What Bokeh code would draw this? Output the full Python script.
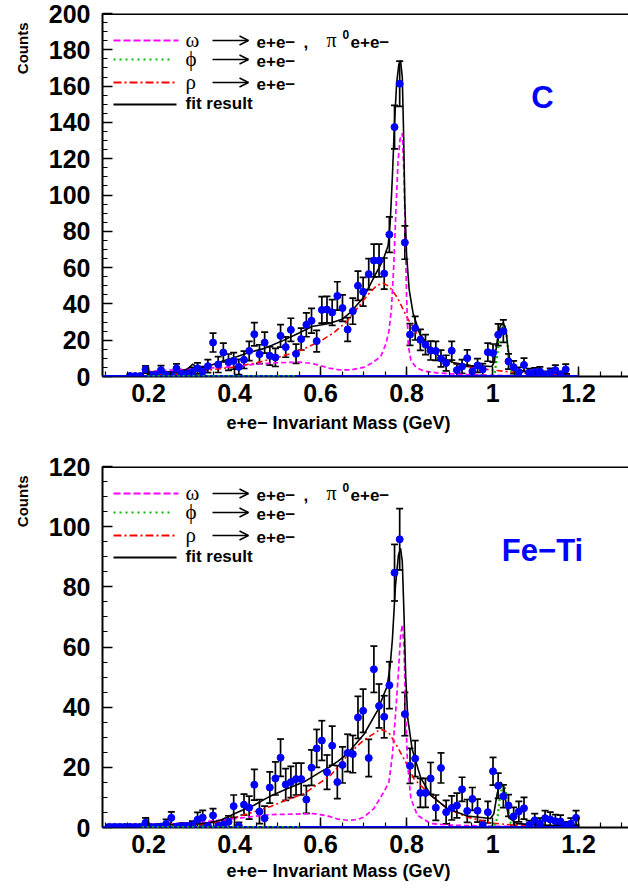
import math
from bokeh.plotting import figure
from bokeh.models import (Range1d, SingleIntervalTicker, Label, Arrow, OpenHead, TeeHead,
                          Whisker, ColumnDataSource, CustomJSTickFormatter, Span, Title)
from bokeh.layouts import column
from bokeh.embed import file_html
from bokeh.resources import INLINE

# ---------------- data: Carbon (top) ----------------
c_mass = [0.157, 0.169, 0.181, 0.193, 0.205, 0.217, 0.229, 0.241, 0.253, 0.265, 0.277, 0.289,
          0.302, 0.314, 0.326, 0.338, 0.350, 0.362, 0.374, 0.386, 0.398, 0.410, 0.422, 0.434,
          0.446, 0.458, 0.470, 0.482, 0.495, 0.507, 0.519, 0.531, 0.543, 0.555, 0.567, 0.579,
          0.591, 0.603, 0.615, 0.627, 0.639, 0.651, 0.663, 0.675, 0.687, 0.699, 0.712, 0.724,
          0.736, 0.748, 0.760, 0.772, 0.784, 0.796, 0.808, 0.820, 0.832, 0.844, 0.856, 0.868,
          0.880, 0.892, 0.905, 0.917, 0.929, 0.941, 0.953, 0.965, 0.977, 0.989, 1.001, 1.013,
          1.025, 1.037, 1.049, 1.061, 1.073, 1.085, 1.098, 1.110, 1.122, 1.134, 1.146, 1.158, 1.170]
c_counts = [0.3, 0.3, 0.3,
            3.9, 0.8, 0.8, 3.5, 0.8, 0.8, 4.4, 1.5, 1.5, 2.5,
            4.5, 2.6, 5.7, 18.7, 6.6, 13.2, 7.9, 8.6, 5.3, 9.2,
            14.1, 23.3, 12.3, 18.7, 11.4, 10.5, 22.4, 16.2, 25.7, 12.5,
            20.6, 28.5, 30.7, 19.5, 36.7, 36.9, 35.3, 44.4, 37.7, 25.9,
            36.0, 50.0, 46.7, 56.4, 63.9, 63.9, 56.7, 78.2, 137.4, 161.3,
            73.8, 23.1, 26.6, 20.2, 17.6, 14.3, 14.1, 9.9, 7.4, 14.2,
            3.5, 5.5, 10.1, 2.9, 6.1, 3.9, 13.4, 12.9, 23.0, 25.0,
            8.3, 5.1, 2.5, 6.4, 2.0, 2.4, 2.8, 1.0, 2.2, 3.5,
            1.0, 3.9]
c_errors = [0.8, 0.8, 0.8,
            2.0, 1.5, 1.5, 2.5, 1.5, 1.5, 2.6, 2.0, 2.0, 2.5,
            3.0, 2.8, 3.6, 5.2, 4.4, 5.2, 4.5, 4.6, 4.2, 4.8,
            5.3, 6.4, 5.2, 5.8, 5.1, 5.0, 6.2, 5.6, 6.4, 5.3,
            6.0, 6.6, 6.8, 5.9, 7.3, 7.3, 7.1, 7.8, 7.3, 6.5,
            7.2, 8.1, 7.9, 8.5, 9.0, 9.0, 8.6, 9.8, 12.0, 12.5,
            9.2, 6.0, 6.5, 5.8, 5.5, 5.2, 5.2, 4.6, 4.3, 5.2,
            3.4, 3.8, 4.6, 3.0, 3.8, 3.2, 5.0, 5.0, 6.0, 6.2,
            4.2, 3.5, 2.6, 3.7, 2.3, 2.4, 2.5, 1.8, 2.3, 2.8,
            1.8, 2.9]

c_fit_x = [0.193, 0.25, 0.285, 0.297, 0.303, 0.31, 0.32, 0.34, 0.36, 0.40, 0.43, 0.47, 0.51,
           0.55, 0.58, 0.62, 0.65, 0.67, 0.70, 0.725, 0.745, 0.757, 0.762, 0.767, 0.772, 0.777,
           0.782, 0.786, 0.790, 0.793, 0.796, 0.800, 0.806, 0.815, 0.83, 0.853, 0.877, 0.91,
           0.95, 0.998, 1.004, 1.011, 1.018, 1.025, 1.031, 1.036, 1.042, 1.053, 1.08, 1.14, 1.18]
c_fit_y = [2.2, 2.5, 3.2, 5.5, 6.8, 5.5, 4.5, 5.8, 7.5, 10.5, 13.0, 15.5, 19.5,
           24.0, 27.5, 29.2, 31.5, 35.5, 43.5, 55, 64, 72, 85, 110, 140, 162,
           172, 174, 165, 135, 95, 67, 48, 35, 24, 16, 11, 7.5,
           6, 5.5, 8, 20, 28, 29.5, 26, 15, 7, 3.8, 2.8, 1.8, 1.5]
c_omega_x = [0.193, 0.25, 0.30, 0.35, 0.40, 0.45, 0.50, 0.55, 0.58, 0.60, 0.62, 0.645, 0.67,
             0.70, 0.72, 0.74, 0.752, 0.759, 0.765, 0.770, 0.775, 0.780, 0.785, 0.790, 0.794,
             0.797, 0.800, 0.804, 0.810, 0.822, 0.84, 0.87, 0.92, 1.0, 1.1, 1.18]
c_omega_y = [2.8, 3.5, 4.2, 4.8, 5.5, 6.8, 7.6, 7.9, 7.2, 6.0, 4.6, 3.6, 3.6,
             5.0, 7.5, 11, 18, 25, 38, 60, 90, 118, 131, 134, 112,
             80, 44, 17, 9, 5, 3, 2, 1.2, 0.6, 0.3, 0.2]
c_rho_x = [0.193, 0.25, 0.28, 0.33, 0.40, 0.45, 0.50, 0.55, 0.60, 0.63, 0.66, 0.68, 0.71,
           0.73, 0.745, 0.76, 0.778, 0.79, 0.80, 0.825, 0.853, 0.88, 0.91, 0.95, 1.0, 1.03,
           1.07, 1.12, 1.18]
c_rho_y = [0.5, 1.0, 1.5, 3.3, 5.2, 7.5, 10.5, 14.0, 19.5, 24.0, 30.0, 36.0, 45.0,
           50.0, 51.5, 49.5, 43.7, 38.0, 33.0, 23.0, 14.5, 10.5, 7.5, 5.0, 3.5, 2.8,
           1.8, 1.4, 1.1]
c_phi_x = [0.95, 0.99, 1.0, 1.005, 1.011, 1.019, 1.026, 1.031, 1.036, 1.041, 1.047, 1.06, 1.10]
c_phi_y = [0.0, 0.2, 0.5, 2.0, 12.0, 25.0, 28.5, 26.0, 14.0, 5.0, 1.5, 0.4, 0.0]
c_phi_zero = [0.198, 0.542]

# ---------------- data: Fe-Ti (bottom) ----------------
f_mass = [0.109, 0.121, 0.133, 0.145, 0.157, 0.169, 0.181,
          0.193, 0.205, 0.217, 0.229, 0.241, 0.253, 0.265, 0.277, 0.289,
          0.302, 0.314, 0.326, 0.338, 0.350, 0.362, 0.374, 0.386, 0.398, 0.410, 0.422, 0.434,
          0.446, 0.458, 0.470, 0.482, 0.495, 0.507, 0.519, 0.531, 0.543, 0.555, 0.567, 0.579,
          0.591, 0.603, 0.615, 0.627, 0.639, 0.651, 0.663, 0.675, 0.687, 0.699, 0.712, 0.724,
          0.736, 0.748, 0.760, 0.772, 0.784, 0.796, 0.808, 0.820, 0.832, 0.844, 0.856, 0.868,
          0.880, 0.892, 0.905, 0.917, 0.929, 0.941, 0.953, 0.965, 0.977, 0.989, 1.001, 1.013,
          1.025, 1.037, 1.049, 1.061, 1.073, 1.085, 1.098, 1.110, 1.122, 1.134, 1.146, 1.158,
          1.170, 1.182, 1.194]
f_counts = [0.2, 0.2, 0.2, 0.2, 0.2, 0.2, 0.2,
            1.6, 0.2, 0.2, 0.3, 1.2, 3.2, 0.3, 0.5, 0.5, 0.8,
            2.6, 3.3, 0.5, 4.0, 0.5, 1.0, 1.9, 7.1, 0.5, 7.6,
            6.6, 14.2, 5.3, 3.1, 13.3, 16.3, 23.2, 14.3, 15.1, 16.1,
            16.1, 9.3, 19.9, 26.3, 28.9, 18.4, 27.2, 15.1, 20.8, 24.8,
            24.4, 36.6, 38.8, 23.1, 52.6, 40.4, 36.8, 47.3, 84.7, 95.8,
            37.7, 20.5, 22.9, 11.5, 11.5, 16.3, 6.6, 19.8, 5.1, 6.5,
            7.3, 12.7, 5.5, 9.5, 5.6, 0.8, 5.1, 18.7, 13.9, 10.4,
            7.3, 3.7, 5.3, 6.4, 0.8, 2.4, 1.3, 3.1, 2.7, 2.1,
            2.0, 0.6, 1.3, 3.2]
f_errors = [0.8, 0.8, 0.8, 0.8, 0.8, 0.8, 0.8,
            1.6, 0.8, 0.8, 0.9, 1.5, 2.0, 0.9, 1.0, 1.0, 1.3,
            2.4, 2.4, 1.0, 2.3, 1.0, 1.5, 2.0, 3.7, 1.2, 3.5,
            3.8, 5.1, 4.0, 4.0, 5.2, 5.5, 6.2, 5.3, 5.2, 5.3,
            5.3, 4.6, 5.9, 6.3, 6.6, 5.7, 6.5, 5.5, 6.0, 6.2,
            6.2, 7.0, 7.2, 6.2, 7.7, 7.3, 7.0, 7.8, 9.4, 10.2,
            7.2, 5.8, 6.0, 4.8, 4.8, 5.3, 4.2, 5.0, 3.9, 4.0,
            4.1, 4.0, 3.8, 3.8, 3.8, 1.5, 3.6, 4.6, 4.2, 3.8,
            3.6, 3.0, 3.4, 3.6, 1.5, 2.2, 1.8, 2.5, 2.4, 2.2,
            2.1, 1.3, 1.8, 2.4]

f_fit_x = [0.19, 0.25, 0.30, 0.34, 0.367, 0.406, 0.445, 0.484, 0.522, 0.561, 0.60, 0.623,
           0.64, 0.662, 0.701, 0.732, 0.755, 0.762, 0.767, 0.774, 0.781, 0.786, 0.790, 0.794,
           0.798, 0.803, 0.813, 0.833, 0.856, 0.895, 0.941, 0.995, 1.003, 1.011, 1.019, 1.026,
           1.032, 1.038, 1.057, 1.112, 1.19]
f_fit_y = [0.8, 0.9, 1.0, 1.6, 2.4, 5.0, 7.4, 10.5, 12.9, 15.1, 18.5, 20.3,
           22.0, 24.5, 31.0, 38.8, 47.0, 54.0, 62.5, 80.0, 90.5, 92.8, 88.5, 71.0,
           50.0, 36.0, 26.0, 16.5, 10.8, 6.3, 3.8, 3.0, 4.6, 11.5, 15.1, 13.5,
           7.4, 3.2, 1.3, 0.8, 0.5]
f_omega_x = [0.19, 0.25, 0.30, 0.33, 0.406, 0.445, 0.484, 0.522, 0.584, 0.615, 0.64, 0.662,
             0.685, 0.701, 0.724, 0.747, 0.759, 0.767, 0.774, 0.781, 0.786, 0.790, 0.794,
             0.798, 0.802, 0.810, 0.825, 0.856, 0.90, 1.0, 1.19]
f_omega_y = [1.0, 1.2, 1.5, 1.9, 3.0, 3.7, 4.3, 4.4, 4.6, 3.9, 2.8, 2.4,
             2.6, 3.5, 6.3, 11.8, 15.1, 24.0, 37.0, 51.5, 63.6, 67.4, 60.0,
             38.0, 21.7, 9.6, 4.1, 1.3, 0.8, 0.4, 0.2]
f_rho_x = [0.19, 0.25, 0.30, 0.367, 0.406, 0.445, 0.484, 0.522, 0.561, 0.60, 0.623, 0.64,
           0.662, 0.70, 0.74, 0.759, 0.778, 0.798, 0.817, 0.856, 0.895, 0.941, 0.995, 1.05, 1.19]
f_rho_y = [0.2, 0.5, 0.8, 1.9, 3.5, 5.2, 7.0, 9.2, 11.2, 15.0, 17.3, 20.0,
           24.0, 29.0, 32.7, 31.5, 27.0, 21.7, 16.2, 10.7, 6.3, 3.5, 1.5, 0.8, 0.4]
f_phi_x = [0.97, 1.0, 1.006, 1.012, 1.017, 1.022, 1.027, 1.032, 1.037, 1.042, 1.05, 1.07]
f_phi_y = [0.0, 0.3, 1.0, 4.0, 10.0, 13.5, 14.2, 11.0, 5.0, 1.5, 0.3, 0.0]
f_phi_zero = [0.185, 0.55]

baseline_end = 1.198
x_lo, x_hi = 0.093, 1.316
ticks_x = 0.2
ticks_y = 20

FONT = "Liberation Sans"
MAGENTA, GREEN, RED, BLUE = "#ff00ff", "#00bb00", "#ff0000", "#0000ff"


def lab(p, x, y, text, size, font=FONT, style="bold", color="black",
        align="left", baseline="middle", angle=0.0):
    p.add_layout(Label(x=x, y=y, x_units="screen", y_units="screen", text=text,
                       text_font=font, text_font_style=style, text_font_size=f"{size}px",
                       text_color=color, text_align=align, text_baseline=baseline, angle=angle))


def hline(p, x0, x1, y, color, dash, width=2.2, end=None):
    p.add_layout(Arrow(x_start=x0, y_start=y, x_end=x1, y_end=y, start_units="screen",
                       end_units="screen", start=None, end=end, line_color=color,
                       line_width=width, line_dash=dash))


def panel(height, btop, bbot, frame_h, title_gap, ymax, mass, counts, errors, fit, omega, rho,
          phi, phi_zero, tag):
    H = frame_h
    p = figure(width=628, height=height, x_range=Range1d(x_lo, x_hi), y_range=Range1d(0, ymax),
               output_backend="svg", toolbar_location=None, min_border_left=102,
               min_border_right=0, min_border_top=btop, min_border_bottom=bbot)
    p.grid.visible = False
    p.outline_line_color = None
    p.background_fill_color = "white"
    p.border_fill_color = "white"

    for ax, interval in ((p.xaxis[0], ticks_x), (p.yaxis[0], ticks_y)):
        ax.ticker = SingleIntervalTicker(interval=interval, num_minor_ticks=4)
        ax.major_tick_in = 10
        ax.major_tick_out = 0
        ax.minor_tick_in = 5
        ax.minor_tick_out = 0
        ax.axis_line_width = 2
        ax.major_tick_line_width = 1.5
        ax.minor_tick_line_width = 1.2
        ax.major_label_text_font = FONT
        ax.major_label_text_font_style = "bold"
        ax.major_label_text_font_size = "25px"
        ax.major_label_text_color = "black"
    p.xaxis[0].formatter = CustomJSTickFormatter(code="return String(Math.round(tick*10)/10);")
    p.xaxis[0].major_label_standoff = 7
    p.yaxis[0].major_label_standoff = 12

    p.add_layout(Title(text="e+e\u2212 Invariant Mass (GeV)", align="left", offset=124,
                       vertical_align="top", standoff=title_gap, text_font=FONT,
                       text_font_style="bold", text_font_size="18px", text_color="black"),
                 "below")
    p.add_layout(Title(text="Counts", align="right", offset=9, vertical_align="top",
                       standoff=26, text_font=FONT, text_font_style="bold",
                       text_font_size="15px", text_color="black"), "left")

    p.add_layout(Span(location=ymax, dimension="width", line_color="black", line_width=3))

    lower = [max(c - e, 0.0) for c, e in zip(counts, errors)]
    upper = [c + e for c, e in zip(counts, errors)]
    src = ColumnDataSource(dict(x=mass, y=counts, lower=lower, upper=upper))
    p.add_layout(Whisker(source=src, base="x", upper="upper", lower="lower", dimension="height",
                         line_color="black", line_width=1.7, level="underlay",
                         upper_head=TeeHead(size=7, line_width=1.7, line_color="black"),
                         lower_head=TeeHead(size=7, line_width=1.7, line_color="black")))

    p.line(rho[0], rho[1], line_color=RED, line_width=1.6, line_dash="6 3 2 3")
    p.line(omega[0], omega[1], line_color=MAGENTA, line_width=1.7, line_dash="5 3")
    p.line(phi[0], phi[1], line_color=GREEN, line_width=2.2, line_dash="2 3")
    p.line(fit[0], fit[1], line_color="black", line_width=1.6)
    p.scatter("x", "y", source=src, marker="circle", size=7, fill_color=BLUE, line_color=BLUE)

    # zero level of the fit components along the axis
    p.add_layout(Arrow(x_start=x_lo, y_start=0, x_end=baseline_end, y_end=0, start=None, end=None,
                       line_color=BLUE, line_width=3))
    p.add_layout(Arrow(x_start=phi_zero[0], y_start=0, x_end=phi_zero[1], y_end=0, start=None,
                       end=None, line_color=GREEN, line_width=3, line_dash="2 3"))

    # legend
    rows = [27, 46, 69, 91]
    y = [H - r for r in rows]
    hline(p, 11, 76, y[0], MAGENTA, "7 3")
    hline(p, 11, 70, y[1], GREEN, "2 4")
    hline(p, 11, 72, y[2], RED, "8 3 2 3")
    hline(p, 11, 74, y[3], "black", "solid")
    for i, g in enumerate(["\u03c9", "\u03d5", "\u03c1"]):
        lab(p, 83, y[i] + 1, g, 21, font="Liberation Serif", style="normal")
        hline(p, 110, 146, y[i], "black", "solid", width=1.5,
              end=OpenHead(size=9, line_width=1.5, line_color="black"))
        lab(p, 154, y[i] - 1, "e+e\u2212", 17)
    lab(p, 201, y[0] - 1, ",", 17)
    lab(p, 224, y[0] + 1, "\u03c0", 20, font="Liberation Serif", style="normal")
    lab(p, 240, y[0] + 6, "0", 12)
    lab(p, 248, y[0] - 1, "e+e\u2212", 17)
    lab(p, 83, y[3] + 1, "fit result", 17)

    lab(p, 440, H - 84, tag, 31, color=BLUE, align="center")
    return p


p1 = panel(443, 13, 67, 363, 16, 200, c_mass, c_counts, c_errors, (c_fit_x, c_fit_y),
           (c_omega_x, c_omega_y), (c_rho_x, c_rho_y), (c_phi_x, c_phi_y), c_phi_zero, "C")
p2 = panel(445, 23, 61, 361, 10, 120, f_mass, f_counts, f_errors, (f_fit_x, f_fit_y),
           (f_omega_x, f_omega_y), (f_rho_x, f_rho_y), (f_phi_x, f_phi_y), f_phi_zero,
           "Fe\u2212Ti")

layout = column(p1, p2, spacing=0)
open("out.html", "w").write(file_html(layout, INLINE))
